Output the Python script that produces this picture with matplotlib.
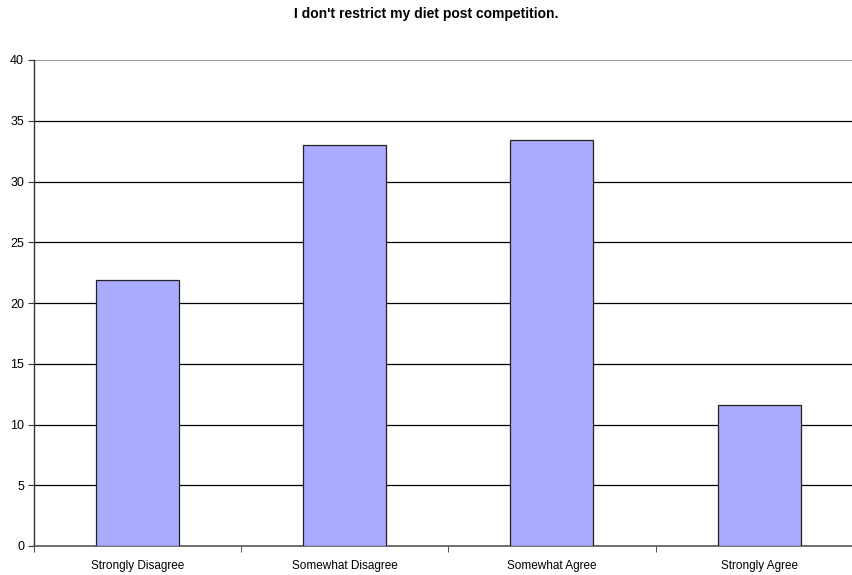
import matplotlib
matplotlib.use("Agg")
import matplotlib.pyplot as plt

categories = ["Strongly Disagree", "Somewhat Disagree", "Somewhat Agree", "Strongly Agree"]
values = [21.9, 33.0, 33.4, 11.6]
y_ticks = [0, 5, 10, 15, 20, 25, 30, 35, 40]

plt.rcParams["font.family"] = ["Liberation Sans", "DejaVu Sans"]

fig = plt.figure(figsize=(8.53, 5.75), dpi=100)
# plot area runs slightly past the right edge of the image, as in the original
ax = fig.add_axes([33.8 / 853, 1 - 546 / 575, 829 / 853, 486 / 575])

x = list(range(len(categories)))
ax.bar(x, values, width=0.4, color="#AAAAFF", edgecolor="#222222", linewidth=0.9, zorder=3)

ax.set_xlim(-0.5, len(categories) - 0.5)
ax.set_ylim(0, 40)
ax.set_yticks(y_ticks)
ax.set_yticklabels([str(t) for t in y_ticks], fontsize=9)
ax.set_xticks(x)
ax.set_xticklabels(categories, fontsize=8.5)
ax.tick_params(axis="x", length=0, pad=10)
ax.set_xticks([i - 0.5 for i in range(len(categories) + 1)], minor=True)
ax.tick_params(axis="x", which="minor", length=4, color="#333333", direction="out")
ax.tick_params(axis="y", length=4, color="#333333", direction="out", pad=3)

for t in y_ticks[1:-1]:
    ax.axhline(t, color="#000000", linewidth=0.9, zorder=1)
ax.axhline(40, color="#888888", linewidth=1.2, zorder=1)

for side in ["top", "right"]:
    ax.spines[side].set_visible(False)
ax.spines["left"].set_color("#333333")
ax.spines["bottom"].set_color("#555555")
ax.spines["left"].set_linewidth(1.0)
ax.spines["bottom"].set_linewidth(1.2)

fig.text(0.5, 1 - 14 / 575, "I don't restrict my diet post competition.", ha="center", va="center",
         fontsize=10, fontweight="bold")

fig.savefig("out.png", dpi=100)
